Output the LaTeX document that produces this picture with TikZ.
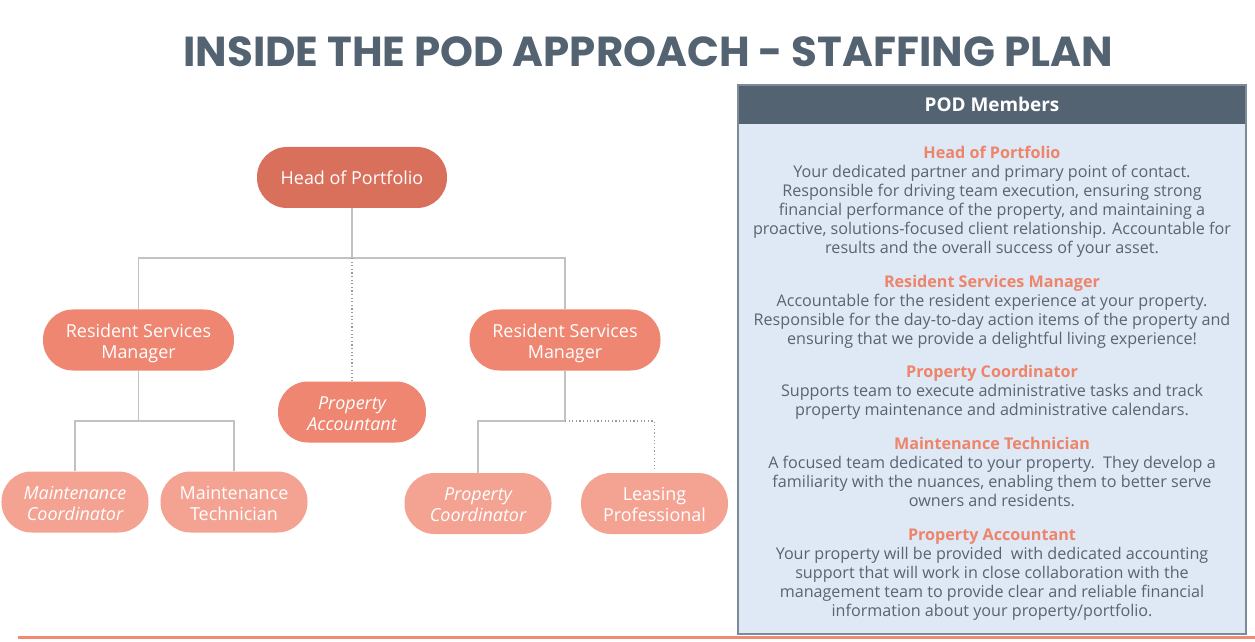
\documentclass[tikz,border=0pt]{standalone}
\usepackage{fontspec}
\setmainfont{Open Sans}
\newfontfamily\titlefont{Poppins}
\usetikzlibrary{positioning}
\definecolor{slate}{HTML}{546371}
\definecolor{panelfill}{HTML}{DEE9F5}
\definecolor{panelborder}{HTML}{7D8A97}
\definecolor{coral}{HTML}{EE8469}
\definecolor{bodygray}{HTML}{58646F}
\definecolor{hopfill}{HTML}{D9705C}
\definecolor{lvltwo}{HTML}{EF8671}
\definecolor{lvlthree}{HTML}{F4A393}
\definecolor{conn}{HTML}{C2C2C2}
\definecolor{dotconn}{HTML}{9A9A9A}
\definecolor{bottomline}{HTML}{F08A73}
\tikzset{
  pill/.style={rectangle, rounded corners=30bp, inner sep=0pt, minimum height=61bp,
    text=white, align=center, font=\fontsize{18}{21}\selectfont},
  toppill/.style={pill, fill=hopfill, minimum width=190bp},
  midpill/.style={pill, fill=lvltwo, minimum width=191bp},
  accpill/.style={pill, fill=lvltwo, minimum width=148bp},
  lowpill/.style={pill, fill=lvlthree, minimum width=147bp},
  link/.style={draw=conn, line width=1.4bp},
  dotlink/.style={draw=dotconn, line width=1.2bp, dash pattern=on 1.2bp off 2.4bp},
  section/.style={anchor=north, inner sep=0pt, align=center, text=bodygray,
    font=\fontsize{16.2}{19}\selectfont},
}
\newcommand{\hd}[1]{\strut\textcolor{coral}{\textbf{#1}}}
\newcommand{\twoline}[2]{\raisebox{-3.5bp}[\height][\depth]{\begin{tabular}{@{}c@{}}#1\\#2\end{tabular}}}
\begin{document}
\begin{tikzpicture}[x=1bp,y=-1bp]
\useasboundingbox (0,0) rectangle (1255,642);
\fill[white] (0,0) rectangle (1255,642);

% title
\node[text=slate, inner sep=0pt] (title) at (648,52)
  {\resizebox{929bp}{!}{\titlefont\bfseries INSIDE THE POD APPROACH - STAFFING PLAN}};

% panel
\fill[panelfill] (738,124) rectangle (1246,634);
\fill[slate] (738,85) rectangle (1246,124);
\draw[panelborder, line width=1.8bp] (738,85) rectangle (1246,634);
\node[text=white, font=\fontsize{19}{22}\selectfont\bfseries] (podhead) at (992,104.5) {POD Members};

\node[section] (s1) at (992,145.5) {\hd{Head of Portfolio}\\
Your dedicated partner and primary point of contact.\\
Responsible for driving team execution, ensuring strong\\
financial performance of the property, and maintaining a\\
proactive, solutions-focused client relationship. Accountable for\\
results and the overall success of your asset.};

\node[section] (s2) at (992,274.5) {\hd{Resident Services Manager}\\
Accountable for the resident experience at your property.\\
Responsible for the day-to-day action items of the property and\\
ensuring that we provide a delightful living experience!};

\node[section] (s3) at (992,364.5) {\hd{Property Coordinator}\\
Supports team to execute administrative tasks and track\\
property maintenance and administrative calendars.};

\node[section] (s4) at (992,436.5) {\hd{Maintenance Technician}\\
A focused team dedicated to your property.\ \ They develop a\\
familiarity with the nuances, enabling them to better serve\\
owners and residents.};

\node[section] (s5) at (992,527.5) {\hd{Property Accountant}\\
Your property will be provided\ \ with dedicated accounting\\
support that will work in close collaboration with the\\
management team to provide clear and reliable financial\\
information about your property/portfolio.};

% org chart nodes
\node[toppill] (hop) at (352,177.5) {Head of Portfolio};
\node[midpill] (rsml) at (138.5,340) {\twoline{Resident Services}{Manager}};
\node[midpill] (rsmr) at (565,340) {\twoline{Resident Services}{Manager}};
\node[accpill] (pa) at (352,412) {\twoline{\itshape Property}{\itshape Accountant}};
\node[lowpill] (mc) at (75,502) {\twoline{\itshape Maintenance}{\itshape Coordinator}};
\node[lowpill] (mt) at (234,502) {\twoline{Maintenance}{Technician}};
\node[lowpill] (pc) at (478,503.5) {\twoline{\itshape Property}{\itshape Coordinator}};
\node[lowpill] (lp) at (654.5,503.5) {\twoline{Leasing}{Professional}};

% junctions
\coordinate (j1) at (352,258);
\coordinate (j2l) at (138.5,421);
\coordinate (j2r) at (565,421);
\coordinate (lpend) at (654.5,469);

% connectors
\draw[link] (hop.south) -- (j1);
\draw[link] (rsml.north) |- (j1) -| (rsmr.north);
\draw[dotlink] (j1) -- (pa.north);
\draw[link] (rsml.south) -- (j2l);
\draw[link] (mc.north) |- (j2l) -| (mt.north);
\draw[link] (rsmr.south) -- (j2r);
\draw[link] (j2r) -| (pc.north);
\draw[dotlink] (j2r) -| (lpend);

% bottom rule
\draw[bottomline, line width=3bp] (18,637) -- (1255,637);
\end{tikzpicture}
\end{document}
